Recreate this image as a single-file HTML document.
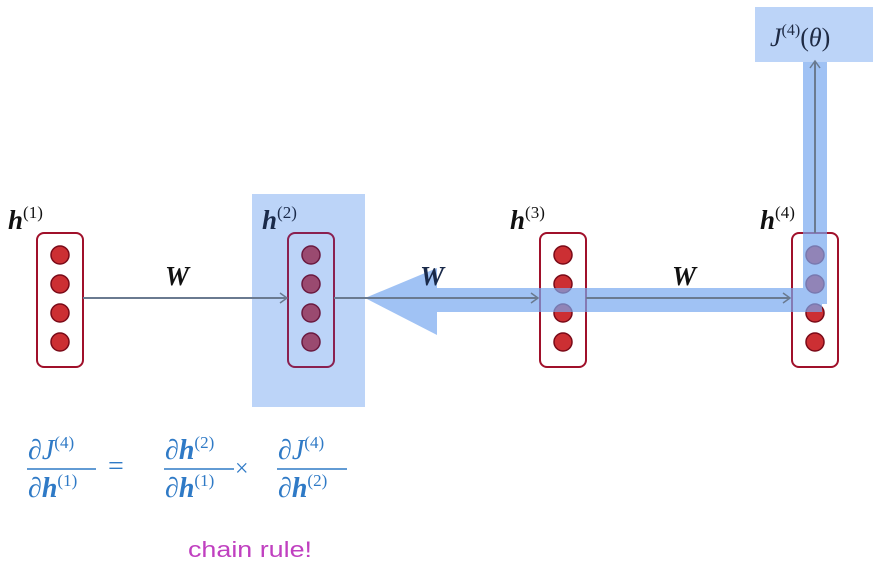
<!DOCTYPE html>
<html><head><meta charset="utf-8"><style>
html,body{margin:0;padding:0;background:#fff;}
svg{display:block;}
.m{font-family:"Liberation Serif",serif;}
</style></head><body>
<svg width="885" height="570" viewBox="0 0 885 570">
<defs>
<marker id="ah" markerWidth="10" markerHeight="12" refX="8" refY="6" orient="auto" markerUnits="userSpaceOnUse">
<path d="M1,1 L8,6 L1,11" fill="none" stroke="#6a7a90" stroke-width="1.5"/></marker>
</defs>
<rect x="252" y="194" width="113" height="213" fill="#bcd4f8"/>
<rect x="755" y="7" width="118" height="55" fill="#bcd4f8"/>
<text x="770" y="46" class="m" font-size="26" font-style="italic" fill="#1e2a44">J<tspan font-size="16" dy="-11" font-style="normal">(4)</tspan><tspan dy="11" font-style="normal">(</tspan>θ<tspan font-style="normal">)</tspan></text>

<g>
<g>
<rect x="37" y="233" width="46" height="134" rx="7" fill="none" stroke="#a0102a" stroke-width="2"/>
<g fill="#cc2f33" stroke="#7a0a18" stroke-width="1.5"><circle cx="60" cy="255" r="9"/><circle cx="60" cy="284" r="9"/><circle cx="60" cy="313" r="9"/><circle cx="60" cy="342" r="9"/></g></g>
<g>
<rect x="288" y="233" width="46" height="134" rx="7" fill="none" stroke="#8a2050" stroke-width="2"/>
<g fill="#9a4a70" stroke="#6a1a40" stroke-width="1.5"><circle cx="311" cy="255" r="9"/><circle cx="311" cy="284" r="9"/><circle cx="311" cy="313" r="9"/><circle cx="311" cy="342" r="9"/></g></g>
<g>
<rect x="540" y="233" width="46" height="134" rx="7" fill="none" stroke="#a0102a" stroke-width="2"/>
<g fill="#cc2f33" stroke="#7a0a18" stroke-width="1.5"><circle cx="563" cy="255" r="9"/><circle cx="563" cy="284" r="9"/><circle cx="563" cy="313" r="9"/><circle cx="563" cy="342" r="9"/></g></g>
<g>
<rect x="792" y="233" width="46" height="134" rx="7" fill="none" stroke="#a0102a" stroke-width="2"/>
<g fill="#cc2f33" stroke="#7a0a18" stroke-width="1.5"><circle cx="815" cy="255" r="9"/><circle cx="815" cy="284" r="9"/><circle cx="815" cy="313" r="9"/><circle cx="815" cy="342" r="9"/></g></g>
</g>

<g fill="#78a8f0" fill-opacity="0.7">
<rect x="803" y="62" width="24" height="242"/>
<path d="M365,298 L437,268 L437,288 L803,288 L803,304 L822,304 L822,312 L437,312 L437,335 Z"/>
</g>

<g fill="none" stroke="#6a7a90" stroke-width="2">
<line x1="83" y1="298" x2="287" y2="298" marker-end="url(#ah)"/>
<line x1="334" y1="298" x2="538" y2="298" marker-end="url(#ah)"/>
<line x1="586" y1="298" x2="790" y2="298" marker-end="url(#ah)"/>
<line x1="815" y1="233" x2="815" y2="61" marker-end="url(#ah)"/>
</g>

<g class="m" font-size="27" font-weight="bold" font-style="italic" fill="#111">
<text x="8" y="229">h<tspan font-size="17" font-weight="normal" font-style="normal" dy="-11">(1)</tspan></text>
<text x="262" y="229" fill="#1a2a4a">h<tspan font-size="17" font-weight="normal" font-style="normal" dy="-11">(2)</tspan></text>
<text x="510" y="229">h<tspan font-size="17" font-weight="normal" font-style="normal" dy="-11">(3)</tspan></text>
<text x="760" y="229">h<tspan font-size="17" font-weight="normal" font-style="normal" dy="-11">(4)</tspan></text>
<text x="165" y="285">W</text>
<text x="420" y="285" fill="#1a2a4a">W</text>
<text x="672" y="285">W</text>
</g>

<g class="m" fill="#2f7ac6" font-size="28">
<text x="28" y="459"><tspan>∂</tspan><tspan font-style="italic">J</tspan><tspan font-size="17" dy="-11">(4)</tspan></text>
<line x1="27" y1="469" x2="96" y2="469" stroke="#2f7ac6" stroke-width="1.5"/>
<text x="28" y="497">∂<tspan font-weight="bold" font-style="italic">h</tspan><tspan font-size="17" dy="-11">(1)</tspan></text>
<text x="108" y="475">=</text>
<text x="165" y="459">∂<tspan font-weight="bold" font-style="italic">h</tspan><tspan font-size="17" dy="-11">(2)</tspan></text>
<line x1="164" y1="469" x2="234" y2="469" stroke="#2f7ac6" stroke-width="1.5"/>
<text x="165" y="497">∂<tspan font-weight="bold" font-style="italic">h</tspan><tspan font-size="17" dy="-11">(1)</tspan></text>
<text x="235" y="476" font-size="24">×</text>
<text x="278" y="459">∂<tspan font-style="italic">J</tspan><tspan font-size="17" dy="-11">(4)</tspan></text>
<line x1="277" y1="469" x2="347" y2="469" stroke="#2f7ac6" stroke-width="1.5"/>
<text x="278" y="497">∂<tspan font-weight="bold" font-style="italic">h</tspan><tspan font-size="17" dy="-11">(2)</tspan></text>
</g>
<text x="188" y="557" font-family="Liberation Sans, sans-serif" font-size="22" textLength="124" lengthAdjust="spacingAndGlyphs" fill="#c040c0">chain rule!</text>
</svg>
</body></html>
